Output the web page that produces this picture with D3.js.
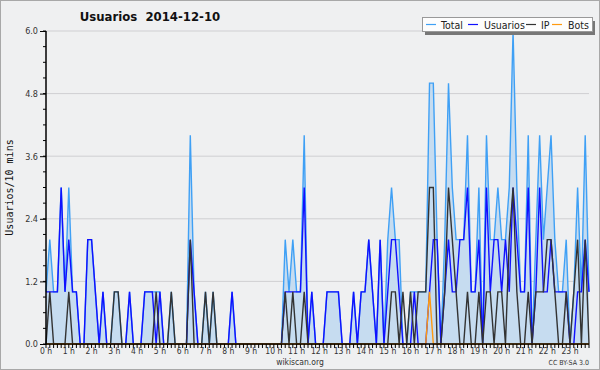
<!DOCTYPE html>
<html>
<head>
<meta charset="utf-8">
<script src="https://cdn.jsdelivr.net/npm/d3@7"></script>
<style>
  body { margin: 0; background: #fff; }
  svg { display: block; font-family: "DejaVu Sans Condensed", "DejaVu Sans", sans-serif; }
</style>
</head>
<body>
<svg id="chart" width="600" height="370"></svg>
<script>
// values per 10 min slot, 144 slots (0h00 .. 23h50)
const total = [
  1,2,1,1,3,1,3,1,1,0,0,2,2,1,0,1,0,0,1,1,0,0,1,0,
  0,0,1,1,1,1,1,0,0,1,0,0,0,0,4,1,0,0,1,0,1,0,0,0,
  0,1,0,0,0,0,0,0,0,0,0,0,0,0,0,2,1,2,1,1,4,0,1,0,
  0,0,1,1,1,1,0,0,0,1,0,1,1,2,1,0,2,0,2,3,2,2,0,0,
  1,1,1,1,1,5,5,2,0,2,5,3,2,2,2,4,1,1,3,0,4,2,2,3,
  2,2,3,6,3,1,1,4,0,2,4,2,3,4,2,1,1,2,0,1,3,1,4,1
];
const usuarios = [
  1,1,1,1,3,1,2,1,1,0,0,2,2,1,0,1,0,0,0,0,0,0,1,0,
  0,0,1,1,1,0,1,0,0,0,0,0,0,0,2,1,0,0,0,0,0,0,0,0,
  0,1,0,0,0,0,0,0,0,0,0,0,0,0,0,1,1,1,1,1,3,0,1,0,
  0,0,1,1,1,1,0,0,0,1,0,1,1,2,1,0,2,0,1,2,2,1,0,0,
  0,1,0,0,0,1,2,2,0,1,2,1,1,2,2,3,1,1,2,0,3,1,2,2,
  1,2,1,3,2,1,1,3,0,1,3,1,1,2,1,1,1,1,0,0,1,1,2,1
];
const ip = [
  0,1,0,0,0,0,1,0,0,0,0,0,0,0,0,0,0,0,1,1,0,0,0,0,
  0,0,0,0,0,1,0,0,0,1,0,0,0,0,2,0,0,0,1,0,1,0,0,0,
  0,0,0,0,0,0,0,0,0,0,0,0,0,0,0,1,0,1,0,0,1,0,0,0,
  0,0,0,0,0,0,0,0,0,0,0,0,0,0,0,0,0,0,0,1,1,0,1,0,
  1,0,1,1,1,3,3,0,0,1,3,2,1,0,0,1,0,0,1,0,1,1,0,1,
  1,0,2,3,1,0,0,1,0,1,1,1,2,2,1,0,0,1,0,1,2,0,2,0
];
const bots = [
  0,0,0,0,0,0,0,0,0,0,0,0,0,0,0,0,0,0,0,0,0,0,0,0,
  0,0,0,0,0,0,0,0,0,0,0,0,0,0,0,0,0,0,0,0,0,0,0,0,
  0,0,0,0,0,0,0,0,0,0,0,0,0,0,0,0,0,0,0,0,0,0,0,0,
  0,0,0,0,0,0,0,0,0,0,0,0,0,0,0,0,0,0,0,0,0,0,0,0,
  0,0,0,0,0,1,0,0,0,0,0,0,0,0,0,0,0,0,0,0,0,0,0,0,
  0,0,0,0,0,0,0,0,0,0,0,0,0,0,0,0,0,0,0,0,0,0,0,0
];

const hours = d3.range(24).map(h => h + " h");
const yTicks = [0, 1.2, 2.4, 3.6, 4.8, 6.0];

const series = [
  { name: "Total", values: total, color: "#3fa0f5" },
  { name: "Usuarios", values: usuarios, color: "#1010ff" },
  { name: "IP", values: ip, color: "#333333" },
  { name: "Bots", values: bots, color: "#ff9a10" }
];

const svg = d3.select("#chart");
const W = 600, H = 370;
const mLeft = 46, mRight = 589, mTop = 31, mBottom = 344;

svg.append("rect").attr("x", 0.5).attr("y", 0.5).attr("width", W - 1).attr("height", H - 1)
  .attr("fill", "#eff0f1").attr("stroke", "#a8a8a8");

const x = d3.scaleLinear().domain([0, 143]).range([mLeft, mRight]);
const y = d3.scaleLinear().domain([0, 6]).range([mBottom, mTop]);

// grid
svg.append("g").selectAll("line").data(yTicks.slice(1)).join("line")
  .attr("x1", mLeft).attr("x2", mRight)
  .attr("y1", d => y(d)).attr("y2", d => y(d))
  .attr("stroke", "#cfcfd2").attr("stroke-width", 1);

// area of total
const area = d3.area().x((d, i) => x(i)).y0(y(0)).y1(d => y(d));
svg.append("path").datum(total).attr("d", area).attr("fill", "#c6dcf0");

const line = d3.line().x((d, i) => x(i)).y(d => y(d));
series.forEach(s => {
  svg.append("path").datum(s.values).attr("d", line)
    .attr("fill", "none").attr("stroke", s.color).attr("stroke-width", 1.4)
    .attr("stroke-linejoin", "miter");
});

// y axis
const yAxis = d3.axisLeft(y).tickValues(yTicks).tickFormat(d3.format(".1f")).tickSize(6).tickPadding(2);
const gy = svg.append("g").attr("transform", `translate(${mLeft},0)`).call(yAxis);
gy.select(".domain").remove();
gy.selectAll(".tick line").attr("stroke", "#000");
gy.selectAll("text").attr("font-size", 9).attr("fill", "#333").attr("font-family", "DejaVu Sans Condensed, DejaVu Sans");
svg.append("g").selectAll("line").data(d3.range(0, 6.01, 0.3)).join("line")
  .attr("x1", mLeft - 3).attr("x2", mLeft).attr("y1", d => y(d)).attr("y2", d => y(d))
  .attr("stroke", "#000");
svg.append("line").attr("x1", mLeft).attr("x2", mLeft).attr("y1", mTop).attr("y2", mBottom + 0.5)
  .attr("stroke", "#000").attr("stroke-width", 1.5);

// x axis
svg.append("g").selectAll("line").data(d3.range(144)).join("line")
  .attr("x1", d => x(d)).attr("x2", d => x(d)).attr("y1", mBottom).attr("y2", mBottom + 4)
  .attr("stroke", "#000");
svg.append("line").attr("x1", mLeft).attr("x2", mRight).attr("y1", mBottom).attr("y2", mBottom)
  .attr("stroke", "#000").attr("stroke-width", 1.5);
svg.append("g").selectAll("text").data(hours).join("text")
  .attr("x", (d, i) => x(i * 6)).attr("y", mBottom + 10)
  .attr("text-anchor", "middle").attr("font-size", 8.5).attr("fill", "#333")
  .text(d => d);

// titles
svg.append("text").attr("x", 150).attr("y", 21).attr("text-anchor", "middle")
  .attr("font-size", 13).attr("font-weight", "bold").attr("fill", "#111")
  .attr("xml:space", "preserve").text("Usuarios  2014-12-10");
svg.append("text").attr("transform", `translate(13,${(mTop + mBottom) / 2}) rotate(-90)`)
  .attr("text-anchor", "middle").attr("font-size", 10).attr("fill", "#111")
  .attr("font-family", "DejaVu Sans Mono, monospace")
  .text("Usuarios/10 mins");
svg.append("text").attr("x", 300).attr("y", 365).attr("text-anchor", "middle")
  .attr("font-size", 8.5).attr("fill", "#333").text("wikiscan.org");
svg.append("text").attr("x", 589).attr("y", 365).attr("text-anchor", "end")
  .attr("font-size", 7).attr("fill", "#333").text("CC BY-SA 3.0");

// legend
const lg = svg.append("g");
lg.append("rect").attr("x", 425).attr("y", 21).attr("width", 170).attr("height", 14).attr("fill", "#777");
lg.append("rect").attr("x", 422.5).attr("y", 17.5).attr("width", 170).attr("height", 14)
  .attr("fill", "#fdfdfd").attr("stroke", "#999");
const lx = [426, 468, 526, 552];
const tx = [441, 484, 541, 568];
series.forEach((s, i) => {
  lg.append("line").attr("x1", lx[i]).attr("x2", lx[i] + 10).attr("y1", 24.5).attr("y2", 24.5)
    .attr("stroke", s.color).attr("stroke-width", 1.2);
  lg.append("text").attr("x", tx[i]).attr("y", 28.5).attr("font-size", 10.5).attr("fill", "#222")
    .text(s.name);
});
</script>
</body>
</html>
